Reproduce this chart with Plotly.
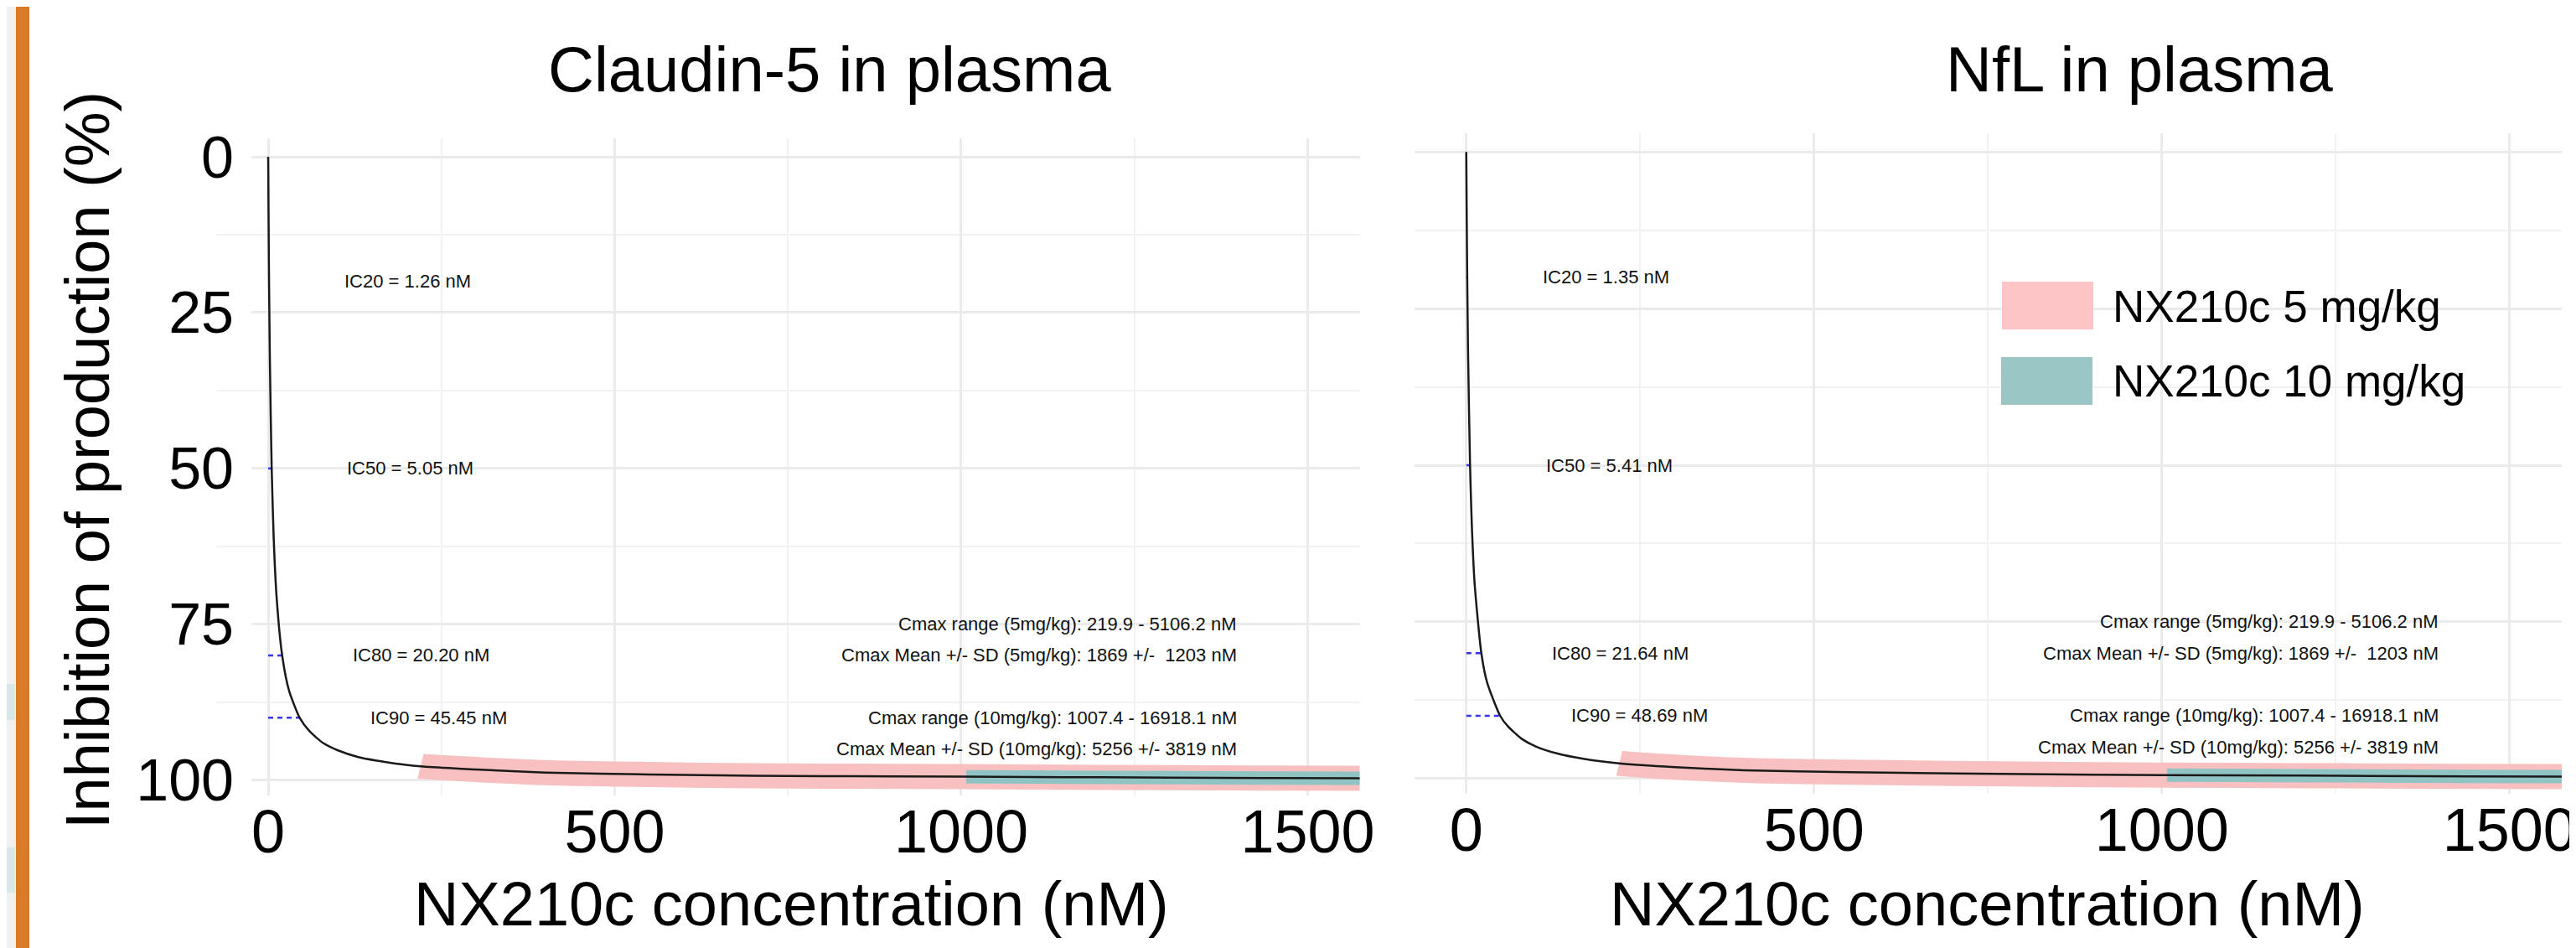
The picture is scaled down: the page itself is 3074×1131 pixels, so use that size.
import numpy as np
import plotly.graph_objects as go

# ---------------- data ----------------
panel_titles = ["Claudin-5 in plasma", "NfL in plasma"]

conc_claudin = [0, 0.5, 1.26, 2.5, 5.05, 8, 12, 20.2, 30, 45.45, 60, 80, 100, 130, 170,
                220, 300, 400, 550, 700, 900, 1100, 1300, 1575, 1700]
inhib_claudin = [0, 9.0, 20.0, 33.1, 50.0, 61.3, 70.4, 80.0, 85.6, 90.0, 92.2, 94.1, 95.2, 96.3, 97.1,
                 97.8, 98.3, 98.8, 99.1, 99.3, 99.4, 99.5, 99.6, 99.7, 99.7]

conc_nfl = [0, 0.5, 1.35, 2.5, 5.41, 8, 12, 21.64, 30, 48.69, 60, 80, 100, 130, 170,
            220, 300, 400, 550, 700, 900, 1100, 1300, 1575, 1700]
inhib_nfl = [0, 8.5, 20.0, 31.6, 50.0, 59.7, 68.9, 80.0, 84.7, 90.0, 91.7, 93.7, 94.9, 96.0, 96.9,
             97.6, 98.2, 98.7, 99.0, 99.2, 99.4, 99.5, 99.6, 99.7, 99.7]

ic_levels = [20, 50, 80, 90]
ic_claudin = [1.26, 5.05, 20.20, 45.45]
ic_nfl = [1.35, 5.41, 21.64, 48.69]
ic_text_claudin = ["IC20 = 1.26 nM", "IC50 = 5.05 nM", "IC80 = 20.20 nM", "IC90 = 45.45 nM"]
ic_text_nfl = ["IC20 = 1.35 nM", "IC50 = 5.41 nM", "IC80 = 21.64 nM", "IC90 = 48.69 nM"]

cmax_range_5 = [219.9, 5106.2]
cmax_range_10 = [1007.4, 16918.1]
cmax_levels = [75, 80, 90, 95]
cmax_texts = ["Cmax range (5mg/kg): 219.9 - 5106.2 nM",
              "Cmax Mean +/- SD (5mg/kg): 1869 +/-  1203 nM",
              "Cmax range (10mg/kg): 1007.4 - 16918.1 nM",
              "Cmax Mean +/- SD (10mg/kg): 5256 +/- 3819 nM"]

legend_labels = ["NX210c 5 mg/kg", "NX210c 10 mg/kg"]
x_ticks = [0, 500, 1000, 1500]
x_minor = [250, 750, 1250]
y_ticks = [0, 25, 50, 75, 100]
y_minor = [12.5, 37.5, 62.5, 87.5]

# ---------------- styling ----------------
W, H = 3074, 1131
FONT = "Liberation Sans, Arial, Helvetica, sans-serif"
PINK = "#F8C0C0"
TEAL = "#90C4C4"
BLUE = "#3535F0"
CURVE = "#1A1A1A"
GRID = "#EBEBEB"
GRID_MINOR = "#F2F2F2"


def px_x(p):
    return p / W


def px_y(p):
    return (H - p) / H


fig = go.Figure()

panels = [
    dict(conc=conc_claudin, inhib=inhib_claudin, ic=ic_claudin, ictext=ic_text_claudin, xa="x", ya="y"),
    dict(conc=conc_nfl, inhib=inhib_nfl, ic=ic_nfl, ictext=ic_text_nfl, xa="x2", ya="y2"),
]

annotations = []
for p in panels:
    conc = np.array(p["conc"], dtype=float)
    inhib = np.array(p["inhib"], dtype=float)
    # dashed IC guide lines
    for lvl, icv in zip(ic_levels, p["ic"]):
        fig.add_trace(go.Scatter(x=[0, icv], y=[lvl, lvl], mode="lines",
                                 line=dict(color=BLUE, width=2.5, dash="6px,5px"),
                                 xaxis=p["xa"], yaxis=p["ya"], showlegend=False, hoverinfo="skip"))
    # Cmax bands
    for rng, col, wid in [(cmax_range_5, PINK, 30), (cmax_range_10, TEAL, 16)]:
        bx = [rng[0]] + [c for c in conc if c > rng[0]] + [rng[1]]
        by = np.interp(bx, conc, inhib)
        fig.add_trace(go.Scatter(x=bx, y=by, mode="lines",
                                 line=dict(color=col, width=wid, shape="spline", smoothing=0.8),
                                 xaxis=p["xa"], yaxis=p["ya"], showlegend=False, hoverinfo="skip"))
    # dose-response curve
    fig.add_trace(go.Scatter(x=conc, y=inhib, mode="lines",
                             line=dict(color=CURVE, width=2.5, shape="spline", smoothing=0.6),
                             xaxis=p["xa"], yaxis=p["ya"], showlegend=False))
    # IC labels
    for lvl, icv, t in zip(ic_levels, p["ic"], p["ictext"]):
        annotations.append(dict(x=icv + 200, y=lvl, xref=p["xa"], yref=p["ya"], text=t,
                                showarrow=False, xanchor="center", yanchor="middle",
                                font=dict(family=FONT, size=22, color="#111111")))
    # Cmax labels
    for lvl, t in zip(cmax_levels, cmax_texts):
        annotations.append(dict(x=1400, y=lvl, xref=p["xa"], yref=p["ya"], text=t,
                                showarrow=False, xanchor="right", yanchor="middle",
                                font=dict(family=FONT, size=22, color="#111111")))

# panel titles
annotations.append(dict(x=px_x(982), y=px_y(75), xref="paper", yref="paper", text=panel_titles[0],
                        showarrow=False, xanchor="center", yanchor="middle",
                        font=dict(family=FONT, size=76, color="black")))
annotations.append(dict(x=px_x(2545), y=px_y(75), xref="paper", yref="paper", text=panel_titles[1],
                        showarrow=False, xanchor="center", yanchor="middle",
                        font=dict(family=FONT, size=76, color="black")))
# axis titles
annotations.append(dict(x=px_x(96), y=px_y(541), xref="paper", yref="paper",
                        text="Inhibition of production (%)", textangle=-90,
                        showarrow=False, xanchor="center", yanchor="middle",
                        font=dict(family=FONT, size=74, color="black")))
for cx in [936, 2363]:
    annotations.append(dict(x=px_x(cx), y=px_y(1070), xref="paper", yref="paper",
                            text="NX210c concentration (nM)",
                            showarrow=False, xanchor="center", yanchor="middle",
                            font=dict(family=FONT, size=74, color="black")))
# legend text
for yc, t in zip([357, 446], legend_labels):
    annotations.append(dict(x=px_x(2511), y=px_y(yc), xref="paper", yref="paper", text=t,
                            showarrow=False, xanchor="left", yanchor="middle",
                            font=dict(family=FONT, size=53, color="black")))

shapes = []
# legend swatches
shapes.append(dict(type="rect", xref="paper", yref="paper", x0=px_x(2381), x1=px_x(2490),
                   y0=px_y(385), y1=px_y(328), fillcolor="#FCC4C4", line=dict(width=0), layer="above"))
shapes.append(dict(type="rect", xref="paper", yref="paper", x0=px_x(2380), x1=px_x(2489),
                   y0=px_y(475), y1=px_y(418), fillcolor="#9BC6C6", line=dict(width=0), layer="above"))
# white boxes behind left tick labels (hide major gridlines there)
for v in y_ticks:
    shapes.append(dict(type="rect", xref="x", yref="y", x0=-80, x1=-24.2, y0=v - 0.9, y1=v + 0.9,
                       fillcolor="white", line=dict(width=0), layer="between"))
# slide decorations on the left edge
shapes.append(dict(type="rect", xref="paper", yref="paper", x0=0, x1=px_x(11), y0=0, y1=1,
                   fillcolor="#EEF1F0", line=dict(width=0), layer="above"))
shapes.append(dict(type="rect", xref="paper", yref="paper", x0=0, x1=px_x(10), y0=px_y(851), y1=px_y(808),
                   fillcolor="#D8E7E7", line=dict(width=0), layer="above"))
shapes.append(dict(type="rect", xref="paper", yref="paper", x0=0, x1=px_x(10), y0=px_y(1057), y1=px_y(1003),
                   fillcolor="#D8E7E7", line=dict(width=0), layer="above"))
shapes.append(dict(type="rect", xref="paper", yref="paper", x0=px_x(11), x1=px_x(27), y0=0, y1=1,
                   fillcolor="#D97A26", line=dict(width=0), layer="above"))

xcommon = dict(range=[-75, 1575], tickvals=x_ticks, ticktext=[str(v) for v in x_ticks],
               showgrid=True, gridcolor=GRID, gridwidth=2.5, zeroline=False, showline=False,
               ticks="", tickfont=dict(family=FONT, size=72, color="black"),
               ticklabelstandoff=-5,
               minor=dict(tickvals=x_minor, showgrid=True, gridcolor=GRID_MINOR, gridwidth=2),
               automargin=False, fixedrange=True)
ycommon = dict(range=[102.5, -3], tickvals=y_ticks, showgrid=True, gridcolor=GRID, gridwidth=2.5,
               zeroline=False, showline=False, ticks="",
               minor=dict(tickvals=y_minor, showgrid=True, gridcolor=GRID_MINOR, gridwidth=2),
               automargin=False, fixedrange=True)

fig.update_layout(
    width=W, height=H,
    margin=dict(l=0, r=0, t=0, b=0),
    paper_bgcolor="white", plot_bgcolor="white",
    template="none",
    showlegend=False,
    xaxis=dict(domain=[px_x(250), px_x(1614.5)], anchor="y", **xcommon),
    yaxis=dict(domain=[px_y(941.3), px_y(156.7)], anchor="x",
               tickfont=dict(family=FONT, size=70, color="black"),
               ticklabelstandoff=-22, **ycommon),
    xaxis2=dict(domain=[px_x(1679.5), px_x(3049)], anchor="y2", **xcommon),
    yaxis2=dict(domain=[px_y(939.4), px_y(150.9)], anchor="x2", showticklabels=False, **ycommon),
    annotations=annotations,
    shapes=shapes,
)

fig.write_html("out.html")
